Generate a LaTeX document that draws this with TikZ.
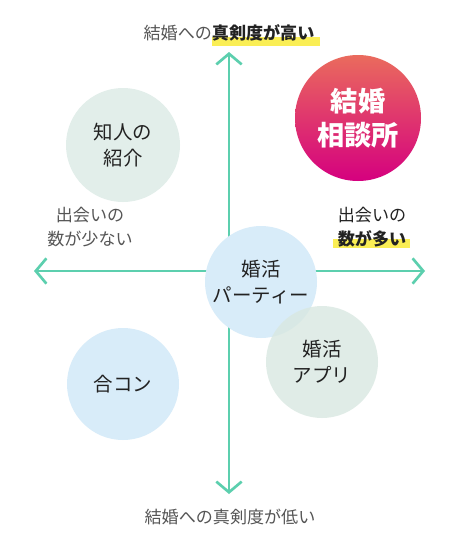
\documentclass[tikz,border=0pt]{standalone}
\usepackage{fontspec}
\setmainfont{Noto Sans CJK JP}
\usetikzlibrary{arrows.meta}
\definecolor{axisc}{HTML}{5CCFAE}
\definecolor{hl}{HTML}{FAEE55}
\definecolor{greenc}{HTML}{E2EEEA}
\definecolor{bluec}{HTML}{D8ECF9}
\definecolor{appc}{HTML}{D9E8E1}
\definecolor{topc}{HTML}{EA6B5D}
\definecolor{botc}{HTML}{D5007F}
\definecolor{lblc}{HTML}{555555}
\definecolor{darkc}{HTML}{222222}
\tikzset{
  axis/.style={draw=axisc, line width=2pt, -{Straight Barb[length=8pt,width=19pt,line width=2pt]}},
  bubble/.style={circle, draw=none, inner sep=0pt, align=center, text=darkc,
    font=\fontsize{14.6}{19.5}\selectfont},
  axlabel/.style={align=center, text=lblc, inner sep=0pt, font=\fontsize{12.8}{18}\selectfont},
}
\begin{document}
\begin{tikzpicture}[x=0.75pt,y=-0.75pt]
\useasboundingbox (0,0) rectangle (463,546);
\fill[white] (0,0) rectangle (463,546);
% axes
\coordinate (o) at (229,271);
\coordinate (top) at (229,52);
\coordinate (bot) at (229,494);
\coordinate (lft) at (34,271);
\coordinate (rgt) at (425,271);
\draw[axis] (o) -- (top);
\draw[axis] (o) -- (bot);
\draw[axis] (o) -- (lft);
\draw[axis] (o) -- (rgt);
% highlights
\fill[hl] (212,37) rectangle (320,46);
\fill[hl] (333,239) rectangle (410,248);
% bubbles
\node[bubble, fill=greenc, minimum size=85.5pt] (chijin) at (123,145) {知人の\\紹介};
\node[bubble, minimum size=94.5pt, top color=topc, bottom color=botc, text=white,
  font=\fontsize{20.4}{25}\selectfont\bfseries] (soudan) at (358,118) {結婚\\相談所};
\node[bubble, fill=bluec, minimum size=84pt] (goukon) at (123,384) {合コン};
\node[bubble, fill=bluec, minimum size=84pt] (party) at (261,282) {婚活\\パーティー};
\node[bubble, fill=appc, fill opacity=0.8, text opacity=1, minimum size=84pt] (app) at (322,362) {婚活\\アプリ};
% labels
\node[axlabel] (tl) at (229,33) {結婚への\textcolor{darkc}{\bfseries 真剣度が高い}};
\node[axlabel] (bl) at (230,517) {結婚への真剣度が低い};
\node[axlabel] (ll) at (90,227) {出会いの\\数が少ない};
\node[axlabel, text=darkc] (rl) at (372,227) {出会いの\\\bfseries 数が多い};
\end{tikzpicture}
\end{document}
